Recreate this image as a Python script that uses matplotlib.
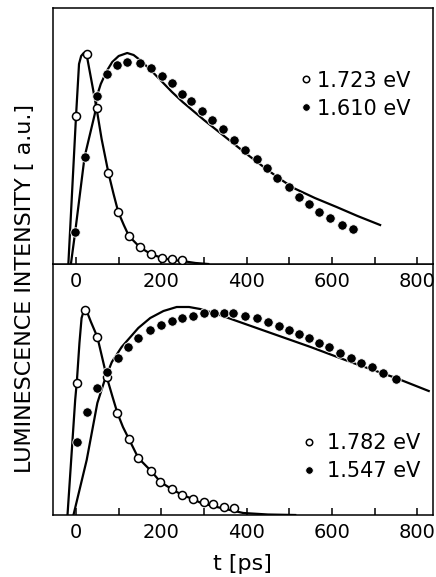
import numpy as np
import matplotlib.pyplot as plt

# upper panel: 1.723 eV (open) and 1.610 eV (filled)
t_a_open = [0, 25, 48, 76, 99, 124, 149, 175, 202, 225, 249]
i_a_open = [148, 210, 156, 91, 52, 28, 17, 10, 6, 5, 4]

t_a_fill = [-2, 20, 48, 72, 96, 120, 149, 176, 202, 224, 249, 270, 295, 318,
            344, 371, 397, 424, 447, 472, 499, 523, 547, 570, 596, 623, 650]
i_a_fill = [32, 107, 168, 190, 199, 202, 201, 196, 188, 181, 170, 163, 153, 144,
            135, 124, 114, 105, 96, 86, 77, 67, 60, 52, 46, 39, 35]

# fitted curves, upper panel
t_a_fit1 = [-18, 0, 7, 12, 18, 25, 35, 48, 60, 76, 88, 99, 112, 124, 149, 175,
            202, 225, 249, 280, 310]
i_a_fit1 = [0, 148, 200, 208, 211, 209, 186, 156, 125, 91, 70, 52, 39, 28, 17, 10,
            6, 4, 3, 1, 0]
t_a_fit2 = [-12, -2, 20, 44, 49, 58, 72, 85, 100, 120, 135, 150, 175, 200, 225,
            250, 300, 350, 400, 440, 475, 510, 560, 611, 660, 713]
i_a_fit2 = [0, 32, 107, 150, 168, 180, 193, 202, 208, 211, 209, 204, 194, 183, 172,
            162, 144, 127, 110, 97, 86, 76, 66, 57, 48, 39]

# lower panel: 1.782 eV (open) and 1.547 eV (filled)
t_b_open = [2, 22, 50, 72, 97, 124, 146, 176, 198, 224, 249, 274, 299, 322, 347, 371]
i_b_open = [132, 205, 178, 138, 102, 76, 57, 44, 33, 26, 20, 16, 13, 11, 8, 7]

t_b_fill = [2, 25, 48, 72, 98, 121, 146, 174, 199, 224, 248, 274, 300, 324, 347,
            369, 396, 424, 450, 475, 499, 522, 547, 570, 594, 619, 644, 668, 693,
            719, 751]
i_b_fill = [73, 103, 127, 143, 157, 168, 177, 185, 190, 194, 197, 199, 202, 202, 202,
            202, 199, 197, 193, 189, 185, 181, 177, 172, 168, 162, 157, 152, 148,
            142, 136]

# fitted curves, lower panel
t_b_fit1 = [-20, -2, 2, 8, 13, 18, 24, 35, 50, 72, 85, 97, 110, 124, 146, 176, 198,
            224, 249, 274, 293, 340, 392, 450, 514]
i_b_fit1 = [0, 115, 134, 172, 197, 204, 205, 193, 178, 138, 119, 102, 88, 76, 57, 44,
            33, 26, 20, 16, 12, 7, 2, 0.5, 0]
t_b_fit2 = [-6, 25, 50, 68, 84, 107, 146, 174, 205, 236, 265, 291, 330, 357, 450,
            550, 650, 750, 827]
i_b_fit2 = [0, 55, 112, 136, 153, 168, 187, 197, 204, 208, 208, 206, 201, 197, 183,
            168, 152, 137, 124]

plt.rcParams['font.family'] = 'DejaVu Sans'

fig = plt.figure(figsize=(4.36, 5.77), dpi=100)
ax1 = fig.add_axes([53 / 436, (577 - 264) / 577, 380 / 436, 256 / 577])
ax2 = fig.add_axes([53 / 436, (577 - 515) / 577, 380 / 436, 251 / 577])
ax1.set_zorder(2)

open_kw = dict(ls='none', marker='o', ms=5.8, mfc='white', mec='black', mew=1.1)
fill_kw = dict(ls='none', marker='o', ms=6.8, mfc='black', mec='white', mew=0.6)

panels = [
    (ax1, t_a_fit1, i_a_fit1, t_a_fit2, i_a_fit2, t_a_open, i_a_open, t_a_fill, i_a_fill,
     '1.723 eV', '1.610 eV', 256, (0.652, 0.755), 0.3),
    (ax2, t_b_fit1, i_b_fit1, t_b_fit2, i_b_fit2, t_b_open, i_b_open, t_b_fill, i_b_fill,
     '1.782 eV', '1.547 eV', 251, (0.66, 0.325), 0.62),
]

for ax, tf1, if1, tf2, if2, to, io, tfl, ifl, lab1, lab2, ytop, anchor, pad in panels:
    ax.plot(tf1, if1, color='black', lw=1.6, zorder=2)
    ax.plot(tf2, if2, color='black', lw=1.6, zorder=2)
    ax.plot(to, io, label=lab1, zorder=3, **open_kw)
    ax.plot(tfl, ifl, label=lab2, zorder=3, **fill_kw)
    ax.set_xlim(-54, 837)
    ax.set_ylim(0, ytop)
    ax.set_yticks([])
    ax.set_xticks(range(0, 801, 200))
    ax.set_xticks(range(100, 801, 200), minor=True)
    ax.tick_params(which='both', direction='in', length=5, width=1.1,
                   labelsize=14, pad=5.5)
    for s in ax.spines.values():
        s.set_linewidth(1.1)
    ax.legend(loc='upper left', bbox_to_anchor=anchor, frameon=False, fontsize=15,
              handlelength=0.5, handletextpad=pad, borderpad=0, borderaxespad=0,
              labelspacing=0.38, markerscale=0.8)

fig.text(0.057, 0.5, 'LUMINESCENCE INTENSITY [ a.u.]', rotation=90,
         ha='center', va='center', fontsize=16)
fig.text(0.557, 0.022, 't [ps]', ha='center', va='center', fontsize=16)

fig.savefig('out.png', dpi=100)
